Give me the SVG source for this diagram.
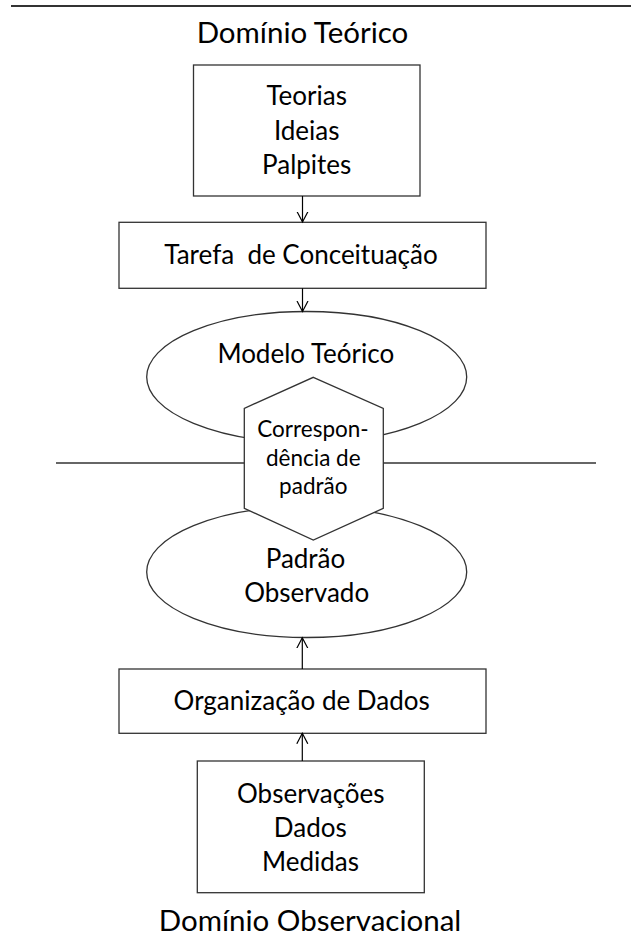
<svg xmlns="http://www.w3.org/2000/svg" width="631" height="947" viewBox="0 0 631 947">
<style>
.bg{fill:#fff}
.shape{fill:#fff;stroke:#333;stroke-width:1.3}
.sep{stroke:#333;fill:none}
.conn{stroke:#000;stroke-width:1.2;fill:none;marker-end:url(#arr)}
text{font-family:Lato,"Open Sans","Liberation Sans",sans-serif;fill:#000;text-anchor:middle}
.t{font-size:26px}
.h{font-size:22.5px}
.title{font-size:29.5px}
</style>
<defs>
<marker id="arr" markerUnits="userSpaceOnUse" markerWidth="14" markerHeight="14" refX="10.5" refY="6" orient="auto">
<path d="M0,0.5 L10.5,6 L0,11.5" fill="none" stroke="#000" stroke-width="1.2"/>
</marker>
</defs>
<rect class="bg" x="0" y="0" width="631" height="947"/>
<line class="sep" x1="11" y1="6" x2="631" y2="6" stroke-width="2"/>
<line class="sep" x1="56" y1="463" x2="596" y2="463" stroke-width="1.5"/>
<text class="title" x="302.5" y="42.7">Domínio Teórico</text>
<g id="teorias">
<rect class="shape" x="193.5" y="65" width="226.5" height="131"/>
<text class="t" x="306.7" y="105.3">Teorias</text>
<text class="t" x="306.7" y="140">Ideias</text>
<text class="t" x="306.7" y="174">Palpites</text>
</g>
<g id="tarefa">
<rect class="shape" x="119" y="222.3" width="367" height="66"/>
<text class="t" x="301" y="264" xml:space="preserve">Tarefa  de Conceituação</text>
</g>
<g id="modelo">
<ellipse class="shape" cx="306.7" cy="377" rx="160" ry="65.5"/>
<text class="t" x="305.8" y="363.3">Modelo Teórico</text>
</g>
<g id="padrao">
<ellipse class="shape" cx="306.7" cy="572" rx="160" ry="65.5"/>
<text class="t" x="305.5" y="568.3">Padrão</text>
<text class="t" x="306.7" y="602.3">Observado</text>
</g>
<g id="correspondencia">
<polygon class="shape" points="313.3,377.3 383.3,408.3 383.3,508.3 313.3,540 244.3,508.3 244.3,408.3"/>
<text class="h" x="313" y="437">Correspon-</text>
<text class="h" x="313.3" y="466">dência de</text>
<text class="h" x="313.3" y="494">padrão</text>
</g>
<g id="organizacao">
<rect class="shape" x="119" y="669" width="367" height="64.3"/>
<text class="t" x="301.7" y="710">Organização de Dados</text>
</g>
<g id="observacoes">
<rect class="shape" x="197.3" y="761" width="227" height="131.7"/>
<text class="t" x="310.8" y="802.7">Observações</text>
<text class="t" x="310.3" y="836.7">Dados</text>
<text class="t" x="310.5" y="870.7">Medidas</text>
</g>
<text class="title" x="310" y="931">Domínio Observacional</text>
<g id="connectors">
<line class="conn" x1="302.5" y1="196" x2="302.5" y2="222"/>
<line class="conn" x1="302.5" y1="288.3" x2="302.5" y2="311.5"/>
<line class="conn" x1="302.3" y1="669" x2="302.3" y2="637.7"/>
<line class="conn" x1="302.3" y1="761" x2="302.3" y2="733.3"/>
</g>
</svg>
